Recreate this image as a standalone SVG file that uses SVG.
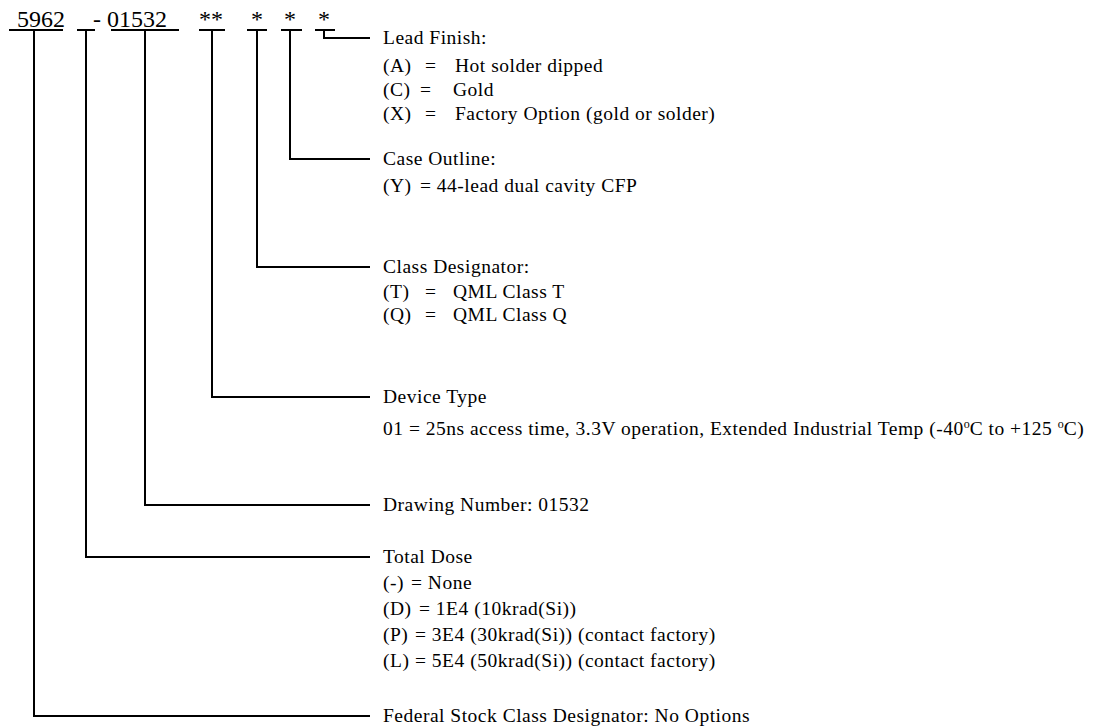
<svg xmlns="http://www.w3.org/2000/svg" width="1113" height="726" viewBox="0 0 1113 726">
<style>
text{font-family:"Liberation Serif","Times New Roman",serif;fill:#000}
.hd{font-size:24px}
.lb{font-size:19.5px;letter-spacing:0.5px}
.sup{font-size:12px;letter-spacing:0}
.ln{stroke:#000;stroke-width:2;fill:none}
</style>
<rect width="1113" height="726" fill="#fff"/>
<g id="header">
<text class="hd" x="17" y="27">5962</text>
<text class="hd" x="93" y="27">-</text>
<text class="hd" x="107" y="27">01532</text>
<text class="hd" x="211" y="27" text-anchor="middle">**</text>
<text class="hd" x="257" y="27" text-anchor="middle">*</text>
<text class="hd" x="290" y="27" text-anchor="middle">*</text>
<text class="hd" x="324" y="27" text-anchor="middle">*</text>
<path class="ln" d="M9 30H63M77 30H95M111 30H179M199 30H225M247 30H267M281 30H302M315 30H335"/>
</g>
<g id="connectors">
<path class="ln" d="M324 30V38H370"/>
<path class="ln" d="M290 30V159H370"/>
<path class="ln" d="M257 30V267H370"/>
<path class="ln" d="M212 30V397H370"/>
<path class="ln" d="M145 30V505H370"/>
<path class="ln" d="M86 30V557H370"/>
<path class="ln" d="M34 30V716H370"/>
</g>
<g id="lead-finish">
<text class="lb" x="383" y="44">Lead Finish:</text>
<text class="lb" x="383" y="72">(A)</text><text class="lb" x="425" y="72">=</text><text class="lb" x="455" y="72">Hot solder dipped</text>
<text class="lb" x="383" y="96">(C)</text><text class="lb" x="420" y="96">=</text><text class="lb" x="453" y="96">Gold</text>
<text class="lb" x="383" y="120">(X)</text><text class="lb" x="425" y="120">=</text><text class="lb" x="455" y="120">Factory Option (gold or solder)</text>
</g>
<g id="case-outline">
<text class="lb" x="383" y="165">Case Outline:</text>
<text class="lb" x="383" y="192">(Y)</text><text class="lb" x="420" y="192">= 44-lead dual cavity CFP</text>
</g>
<g id="class-designator">
<text class="lb" x="383" y="273">Class Designator:</text>
<text class="lb" x="383" y="298">(T)</text><text class="lb" x="425" y="298">=</text><text class="lb" x="453" y="298">QML Class T</text>
<text class="lb" x="383" y="321">(Q)</text><text class="lb" x="425" y="321">=</text><text class="lb" x="453" y="321">QML Class Q</text>
</g>
<g id="device-type">
<text class="lb" x="383" y="403">Device Type</text>
<text class="lb" x="383" y="435">01 = 25ns access time, 3.3V operation, Extended Industrial Temp (-40<tspan class="sup" dy="-7">o</tspan><tspan dy="7">C to +125 </tspan><tspan class="sup" dy="-7">o</tspan><tspan dy="7">C)</tspan></text>
</g>
<g id="drawing-number">
<text class="lb" x="383" y="511">Drawing Number: 01532</text>
</g>
<g id="total-dose">
<text class="lb" x="383" y="563">Total Dose</text>
<text class="lb" x="383" y="589">(-)</text><text class="lb" x="411" y="589">= None</text>
<text class="lb" x="383" y="615">(D)</text><text class="lb" x="419" y="615">= 1E4 (10krad(Si))</text>
<text class="lb" x="383" y="641">(P)</text><text class="lb" x="415" y="641">= 3E4 (30krad(Si)) (contact factory)</text>
<text class="lb" x="383" y="667">(L)</text><text class="lb" x="415" y="667">= 5E4 (50krad(Si)) (contact factory)</text>
</g>
<g id="federal-stock">
<text class="lb" x="383" y="722">Federal Stock Class Designator: No Options</text>
</g>
</svg>
